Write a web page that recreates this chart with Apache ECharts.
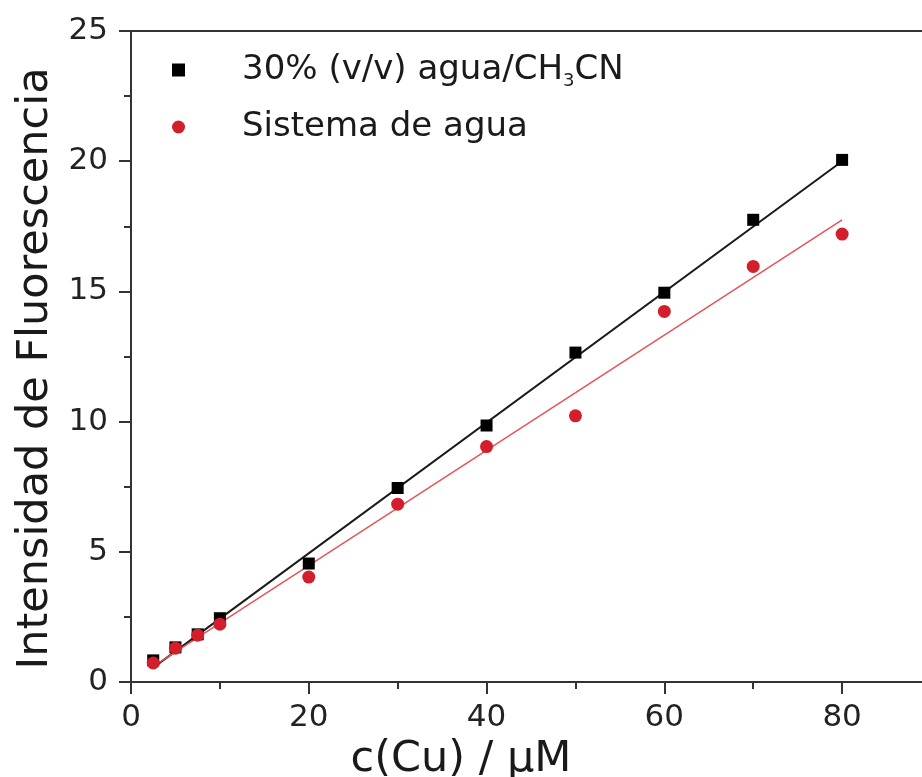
<!DOCTYPE html>
<html>
<head>
<meta charset="utf-8">
<script src="https://cdn.jsdelivr.net/npm/echarts@6/dist/echarts.min.js"></script>
<style>
html,body{margin:0;padding:0;background:#fff;}
#chart{width:922px;height:777px;}
</style>
</head>
<body>
<div id="chart"></div>
<script>
// Data
const concentrations = [2.5, 5, 7.5, 10, 20, 30, 40, 50, 60, 70, 80];
const acnValues   = [0.83, 1.33, 1.83, 2.45, 4.55, 7.45, 9.85, 12.65, 14.95, 17.75, 20.05];
const waterValues = [0.73, 1.30, 1.80, 2.22, 4.03, 6.83, 9.04, 10.22, 14.23, 15.96, 17.20];
const fitX        = [2.5, 80];
const acnFitY     = [0.55, 20.0];
const waterFitY   = [0.60, 17.75];
const seriesNames = ['30% (v/v) agua/CH3CN', 'Sistema de agua'];
const xTitle = 'c(Cu) / μM';
const yTitle = 'Intensidad de Fluorescencia';

const zip = (xs, ys) => xs.map((x, i) => [x, ys[i]]);

const FONT = 'DejaVu Sans';
const chart = echarts.init(document.getElementById('chart'));

chart.setOption({
  backgroundColor: '#ffffff',
  animation: false,
  grid: {
    left: 131, top: 31, width: 800, height: 651,
    containLabel: false, outerBoundsMode: 'none',
    show: true, borderColor: '#333', borderWidth: 2, backgroundColor: 'transparent'
  },
  legend: {
    orient: 'vertical',
    left: 167, top: 48,
    itemWidth: 13, itemHeight: 13,
    itemGap: 20,
    data: seriesNames,
    formatter: function (name) {
      if (name === seriesNames[0]) {
        return '{sp|}{a|30% (v/v) agua/CH}{s|3}{a|CN}';
      }
      return '{sp|}{a|' + name + '}';
    },
    textStyle: {
      rich: {
        sp: { width: 52 },
        a: { fontFamily: FONT, fontSize: 34, color: '#1a1a1a', lineHeight: 40 },
        s: { fontFamily: FONT, fontSize: 18, color: '#1a1a1a', lineHeight: 36, verticalAlign: 'bottom' }
      }
    }
  },
  xAxis: [
    {
      type: 'value', min: 0, max: 90, interval: 20, position: 'bottom',
      name: xTitle, nameLocation: 'middle', nameGap: 52,
      nameTextStyle: { fontFamily: FONT, fontSize: 43, color: '#1a1a1a', padding: [0, 140, 0, 0] },
      axisLine: { show: true, onZero: false, lineStyle: { color: '#333', width: 2 } },
      axisTick: { show: true, inside: false, length: 12, lineStyle: { color: '#333', width: 2 } },
      axisLabel: { fontFamily: FONT, fontSize: 31, color: '#222', margin: 20, showMaxLabel: false },
      splitLine: { show: false }
    },
    {
      type: 'value', min: 0, max: 90, interval: 10, position: 'bottom', gridIndex: 0,
      axisLine: { show: false, onZero: false },
      axisTick: { show: true, inside: false, length: 7, lineStyle: { color: '#333', width: 2 } },
      axisLabel: { show: false },
      splitLine: { show: false }
    }
  ],
  yAxis: {
    type: 'value', min: 0, max: 25, interval: 5,
    name: yTitle, nameLocation: 'middle', nameGap: 70, nameRotate: 90,
    nameTextStyle: { fontFamily: FONT, fontSize: 43, color: '#1a1a1a', padding: [0, 24, 0, 0] },
    axisLine: { show: true, lineStyle: { color: '#333', width: 2 } },
    axisTick: { show: true, inside: false, length: 12, lineStyle: { color: '#333', width: 2 } },
    minorTick: { show: true, splitNumber: 2, length: 7, lineStyle: { color: '#333', width: 2 } },
    axisLabel: { fontFamily: FONT, fontSize: 31, color: '#222', margin: 23 },
    splitLine: { show: false }
  },
  series: [
    {
      name: 'fit1', type: 'line', data: zip(fitX, acnFitY), showSymbol: false, z: 2,
      lineStyle: { color: '#1a1a1a', width: 2 }, silent: true
    },
    {
      name: 'fit2', type: 'line', data: zip(fitX, waterFitY), showSymbol: false, z: 2,
      lineStyle: { color: '#e5545a', width: 1.5 }, silent: true
    },
    {
      name: seriesNames[0], type: 'scatter', data: zip(concentrations, acnValues),
      symbol: 'rect', symbolSize: 12, z: 3,
      itemStyle: { color: '#000000', opacity: 1 }
    },
    {
      name: seriesNames[1], type: 'scatter', data: zip(concentrations, waterValues),
      symbol: 'circle', symbolSize: 13, z: 3,
      itemStyle: { color: '#d21f2b', opacity: 1 }
    }
  ]
});
</script>
</body>
</html>
